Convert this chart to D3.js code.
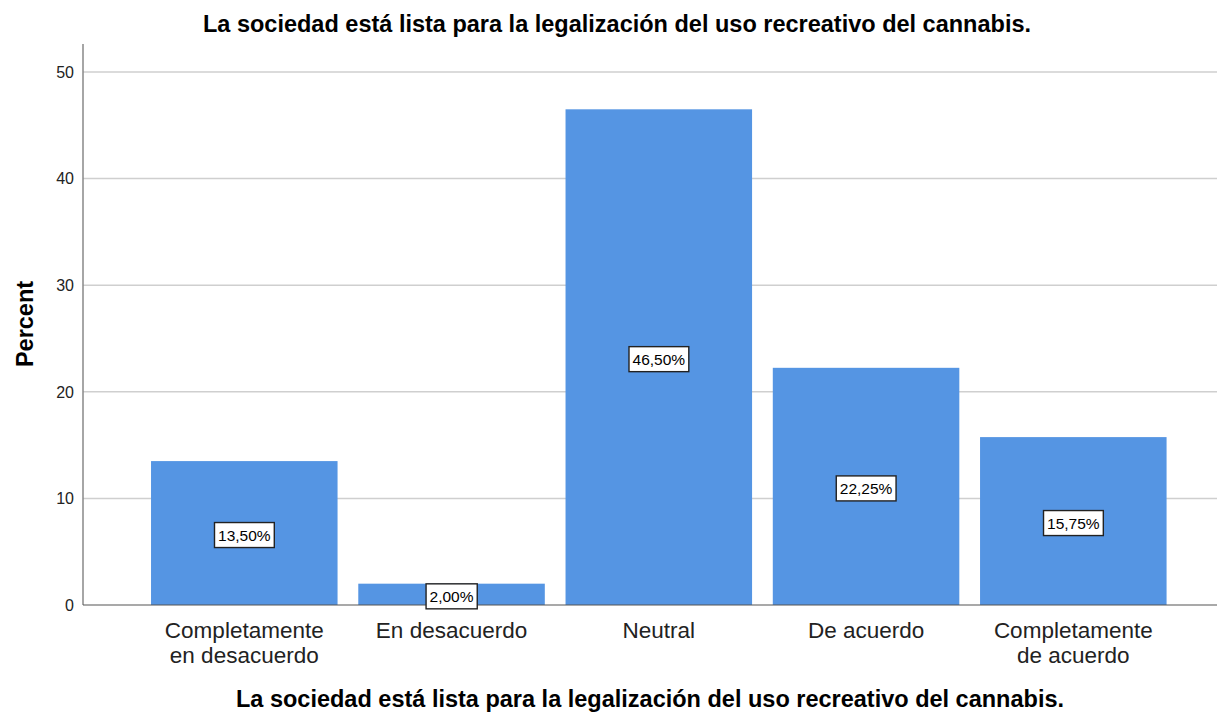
<!DOCTYPE html>
<html><head><meta charset="utf-8">
<script src="https://cdn.jsdelivr.net/npm/d3@7"></script>
<style>body{margin:0;background:#fff}svg{display:block;font-family:"Liberation Sans",Arial,sans-serif}</style>
</head><body>
<svg id="c" width="1218" height="713"></svg>
<script>
const categories = [["Completamente","en desacuerdo"],["En desacuerdo"],["Neutral"],["De acuerdo"],["Completamente","de acuerdo"]];
const percents = [13.5, 2.0, 46.5, 22.25, 15.75];
const yTicks = [0, 10, 20, 30, 40, 50];
const title = "La sociedad está lista para la legalización del uso recreativo del cannabis.";
const yTitle = "Percent";

const svg = d3.select("#c");
const axL = 83, axR = 1217, y0 = 605, yTop = 44;
const y = d3.scaleLinear().domain([0, 50]).range([y0, 72]);
const x = d3.scaleBand().domain(d3.range(categories.length)).range([130.3, 1187.3]).paddingInner(0.1).paddingOuter(0.1);

// gridlines
svg.append("g").selectAll("line").data(yTicks.filter(d => d > 0)).join("line")
  .attr("x1", axL).attr("x2", axR).attr("y1", d => y(d)).attr("y2", d => y(d))
  .attr("stroke", "#cfcfcf").attr("stroke-width", 1.5);

// bars
svg.append("g").selectAll("rect").data(percents).join("rect")
  .attr("x", (d, i) => x(i)).attr("width", x.bandwidth())
  .attr("y", d => y(d)).attr("height", d => y0 - y(d))
  .attr("fill", "#5595e3");

// axes lines
svg.append("line").attr("x1", axL).attr("x2", axL).attr("y1", yTop).attr("y2", y0).attr("stroke", "#888").attr("stroke-width", 1.5);
svg.append("line").attr("x1", axL).attr("x2", axR).attr("y1", y0).attr("y2", y0).attr("stroke", "#555").attr("stroke-width", 1.2);

// y tick labels
svg.append("g").selectAll("text").data(yTicks).join("text")
  .attr("x", 74).attr("y", d => y(d)).attr("dy", "0.36em").attr("text-anchor", "end")
  .attr("font-size", 16).attr("fill", "#222").text(d => d);

// value labels
const lbl = svg.append("g").selectAll("g").data(percents).join("g")
  .attr("transform", (d, i) => `translate(${x(i) + x.bandwidth() / 2},${y(d / 2) + 2})`);
lbl.append("text").attr("text-anchor", "middle").attr("dy", "0.36em").attr("font-size", 15.5).attr("fill", "#000")
  .text(d => d3.format(".2f")(d).replace(".", ",") + "%");
lbl.each(function() {
  const g = d3.select(this), t = g.select("text"), bb = t.node().getBBox();
  g.insert("rect", "text").attr("x", bb.x - 3.5).attr("y", -12.5).attr("width", bb.width + 7).attr("height", 25)
    .attr("fill", "#fff").attr("stroke", "#222").attr("stroke-width", 1.4);
});

// category labels
const cl = svg.append("g").selectAll("text").data(categories).join("text")
  .attr("x", (d, i) => x(i) + x.bandwidth() / 2).attr("y", 638).attr("text-anchor", "middle")
  .attr("font-size", 22.5).attr("fill", "#222");
cl.selectAll("tspan").data(d => d).join("tspan")
  .attr("x", function() { return d3.select(this.parentNode).attr("x"); })
  .attr("dy", (d, i) => i === 0 ? 0 : 24.5).text(d => d);

// titles
svg.append("text").attr("x", 617).attr("y", 32).attr("text-anchor", "middle").attr("font-size", 23.5).attr("font-weight", "bold").attr("fill", "#000").text(title);
svg.append("text").attr("x", 650).attr("y", 707).attr("text-anchor", "middle").attr("font-size", 23.5).attr("font-weight", "bold").attr("fill", "#000").text(title);
svg.append("text").attr("transform", "translate(33,324) rotate(-90)").attr("text-anchor", "middle").attr("font-size", 23.5).attr("font-weight", "bold").attr("fill", "#000").text(yTitle);
</script>
</body></html>
